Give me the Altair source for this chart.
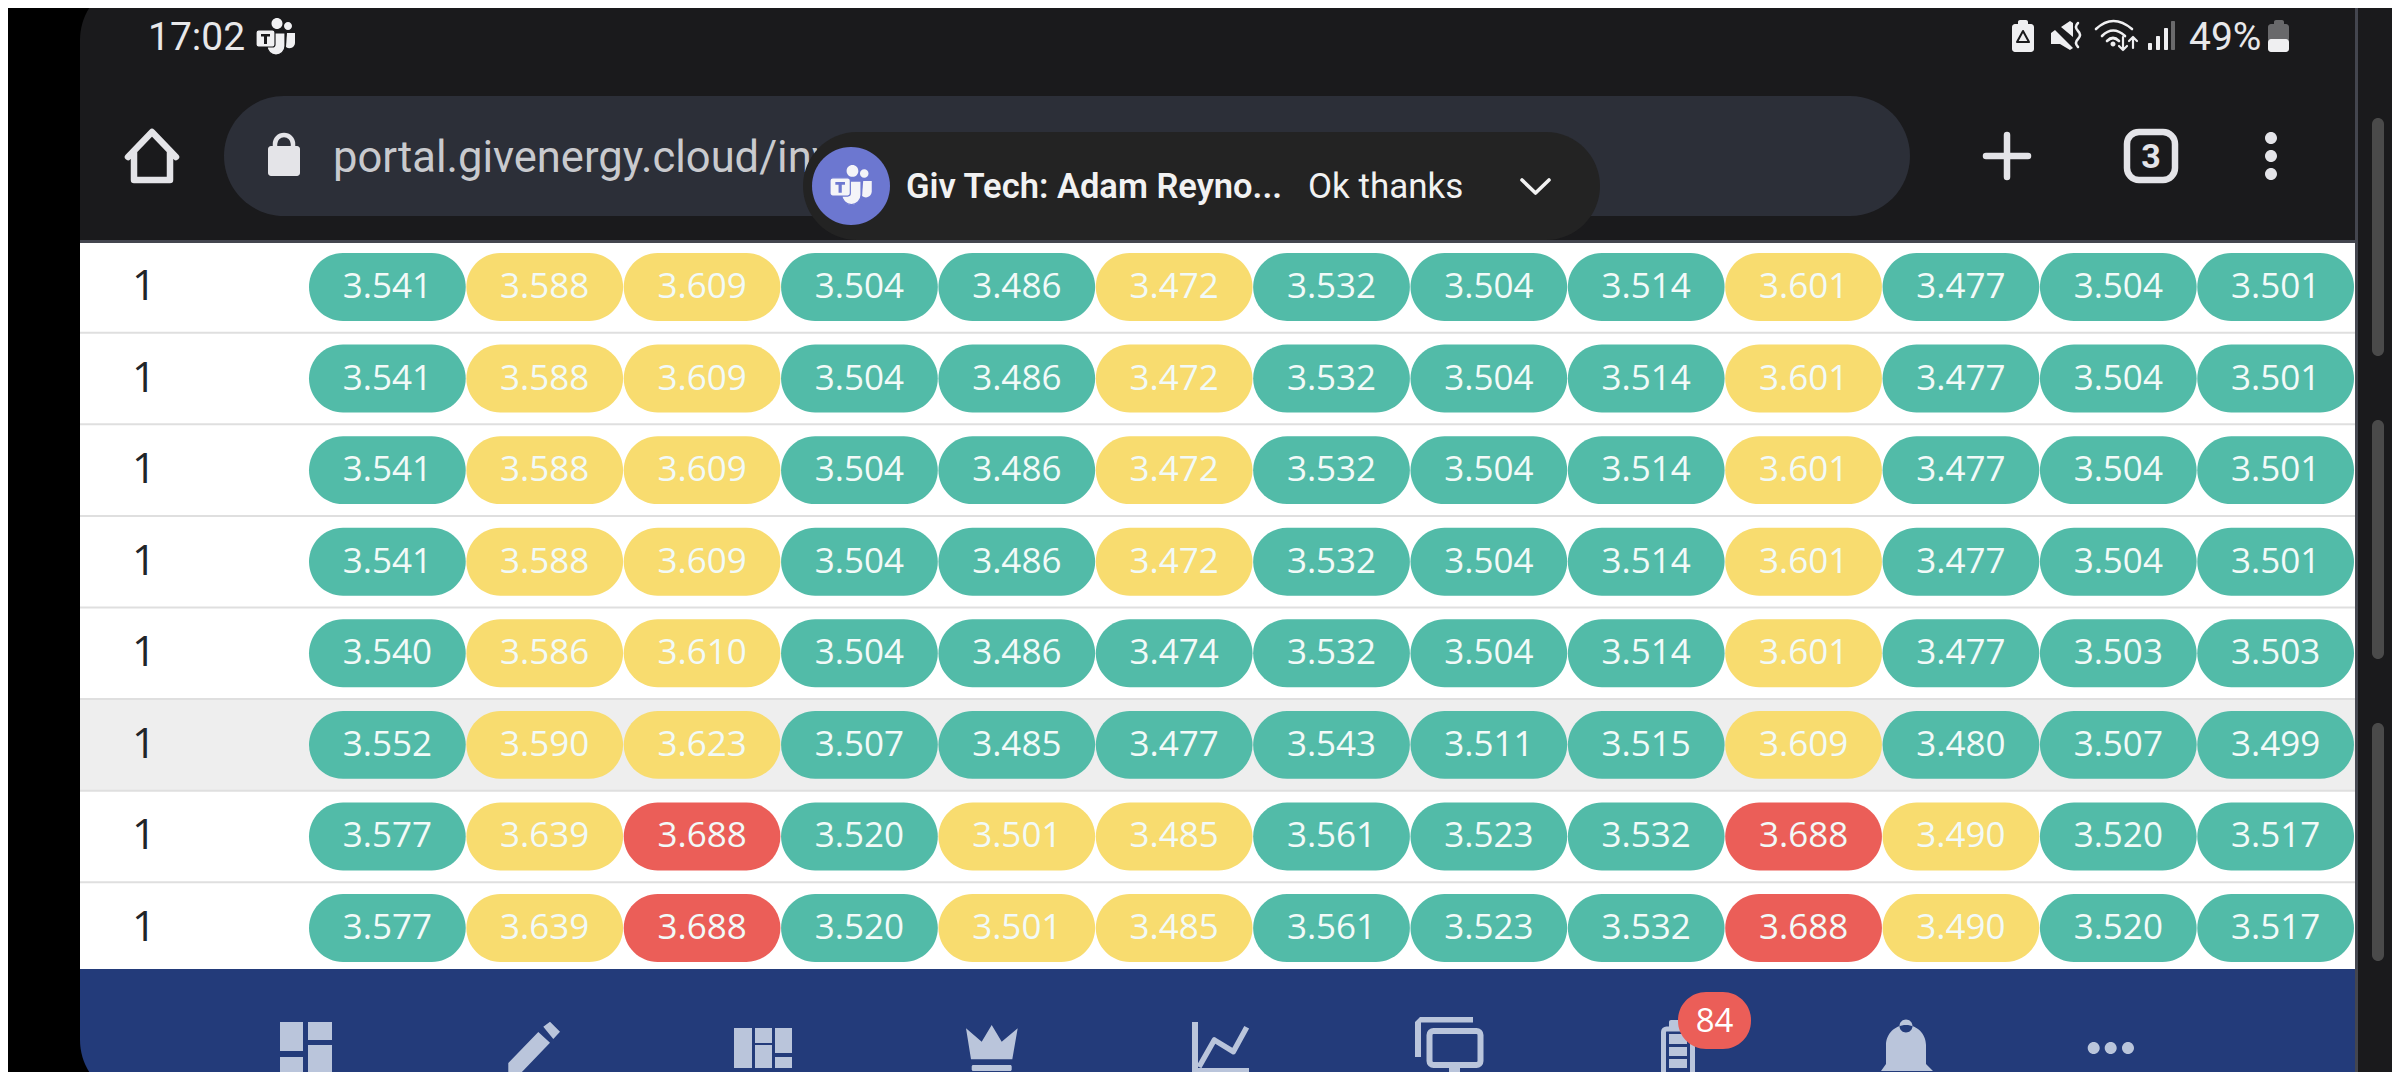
import altair as alt
import pandas as pd

# ---------- table values ----------
row_ids = [1, 1, 1, 1, 1, 1, 1, 1]
values = [
    [3.541, 3.588, 3.609, 3.504, 3.486, 3.472, 3.532, 3.504, 3.514, 3.601, 3.477, 3.504, 3.501],
    [3.541, 3.588, 3.609, 3.504, 3.486, 3.472, 3.532, 3.504, 3.514, 3.601, 3.477, 3.504, 3.501],
    [3.541, 3.588, 3.609, 3.504, 3.486, 3.472, 3.532, 3.504, 3.514, 3.601, 3.477, 3.504, 3.501],
    [3.541, 3.588, 3.609, 3.504, 3.486, 3.472, 3.532, 3.504, 3.514, 3.601, 3.477, 3.504, 3.501],
    [3.540, 3.586, 3.610, 3.504, 3.486, 3.474, 3.532, 3.504, 3.514, 3.601, 3.477, 3.503, 3.503],
    [3.552, 3.590, 3.623, 3.507, 3.485, 3.477, 3.543, 3.511, 3.515, 3.609, 3.480, 3.507, 3.499],
    [3.577, 3.639, 3.688, 3.520, 3.501, 3.485, 3.561, 3.523, 3.532, 3.688, 3.490, 3.520, 3.517],
    [3.577, 3.639, 3.688, 3.520, 3.501, 3.485, 3.561, 3.523, 3.532, 3.688, 3.490, 3.520, 3.517],
]
states = [
    "gyygg" "ygggygg" "g",
    "gyygg" "ygggygg" "g",
    "gyygg" "ygggygg" "g",
    "gyygg" "ygggygg" "g",
    "gyygg" "ggggygg" "g",
    "gyygg" "ggggygg" "g",
    "gyrgy" "ygggryg" "g",
    "gyrgy" "ygggryg" "g",
]
state_domain = ["g", "y", "r"]
state_range = ["#52BBA8", "#F8DC6F", "#EB5E58"]

cells = pd.DataFrame(
    [
        {"row": r, "col": c, "v": values[r][c], "s": states[r][c]}
        for r in range(len(values))
        for c in range(len(values[r]))
    ]
)
rows = pd.DataFrame({"row": list(range(len(row_ids))), "id": row_ids})
one = pd.DataFrame({"k": [0]})

# ---------- shared scales ----------
xs = alt.X("col:O", axis=None,
           scale=alt.Scale(type="band", domain=list(range(13)), range=[301, 2346],
                           paddingInner=0.004, paddingOuter=0))
ys = alt.Y("row:O", axis=None,
           scale=alt.Scale(type="band", domain=list(range(8)), range=[245, 954],
                           paddingInner=0.258, paddingOuter=0))

# ---------- helpers for the phone screen around the table ----------
M = 8  # page margin


def rect(x0, y0, x1, y1, fill, **kw):
    return alt.Chart(one).mark_rect(color=fill, opacity=1, **kw).encode(
        x=alt.value(x0 - M), x2=alt.value(x1 - M),
        y=alt.value(y0 - M), y2=alt.value(y1 - M))


def fill(d, color, ox=0, oy=0, k=1.0, stroke=None, sw=0):
    kw = dict(stroke=stroke, strokeWidth=sw) if stroke else dict(strokeWidth=0)
    return alt.Chart(one).mark_point(
        shape=d, size=4 * k * k, filled=True, fill=color, opacity=1, **kw
    ).encode(x=alt.value(ox - M), y=alt.value(oy - M))


def line(d, color, sw, ox=0, oy=0, k=1.0, cap="round"):
    return alt.Chart(one).mark_point(
        shape=d, size=4 * k * k, filled=False, stroke=color, strokeWidth=sw,
        strokeCap=cap, strokeJoin="round", opacity=1
    ).encode(x=alt.value(ox - M), y=alt.value(oy - M))


def txt(s, x, y, size, color, font="Roboto", weight=400, align="left"):
    return alt.Chart(one).mark_text(
        text=s, fontSize=size, color=color, font=font, fontWeight=weight,
        align=align, baseline="alphabetic"
    ).encode(x=alt.value(x - M), y=alt.value(y - M))


def circ(cx, cy, r):
    return f"M{cx - r} {cy}a{r} {r} 0 1 0 {2 * r} 0a{r} {r} 0 1 0 {-2 * r} 0Z"


def rr(x0, y0, x1, y1, r):
    return (f"M{x0 + r} {y0}H{x1 - r}a{r} {r} 0 0 1 {r} {r}V{y1 - r}a{r} {r} 0 0 1 {-r} {r}"
            f"H{x0 + r}a{r} {r} 0 0 1 {-r} {-r}V{y0 + r}a{r} {r} 0 0 1 {r} {-r}Z")


def poly(*pts):
    return "M" + "L".join(f"{x} {y}" for x, y in pts) + "Z"


def teams(ox, oy, k, fg, bg):
    return [
        fill(circ(32, 8, 4) + circ(21, 5.5, 5.5), fg, ox, oy, k),
        fill("M31 15H39V25a5.5 5.5 0 0 1-9 4Z", fg, ox, oy, k),
        fill("M11 15H29V28a9 9 0 0 1-18 0Z", fg, ox, oy, k, stroke=bg, sw=1.2),
        fill(rr(0, 12, 19, 29, 2.5), fg, ox, oy, k, stroke=bg, sw=1.2),
        fill("M5 16H14V18.5H11V26H8V18.5H5Z", bg, ox, oy, k),
    ]


DARK = "#1A1A1C"
ICON = "#E4E4E8"
NAVY = "#233B7A"
NAV = "#BAC5DB"

# ---------- screen background ----------
base = [
    rect(80, -20, 2420, 242, DARK, cornerRadiusTopLeft=60),
    rect(2354, 0, 2420, 1100, DARK),
    rect(80, 240, 2355, 243, "#44464F"),
    rect(80, 243, 2355, 970, "#FFFFFF"),
    rect(80, 969, 2355, 1100, NAVY, cornerRadiusBottomLeft=60),
    rect(2355, 0, 2358, 1100, "#44464F"),
    rect(80, 699, 2355, 790, "#EEEEEE"),
    rect(2372, 118, 2384, 356, "#4A4A4A", cornerRadius=6),
    rect(2372, 420, 2384, 659, "#4A4A4A", cornerRadius=6),
    rect(2372, 723, 2384, 961, "#4A4A4A", cornerRadius=6),
]

# ---------- table ----------
seps = alt.Chart(rows[rows.row < 7]).mark_rule(color="#DFDFDF", strokeWidth=2, yOffset=11.8).encode(
    y=alt.Y("row:O", axis=None, bandPosition=1,
            scale=alt.Scale(type="band", domain=list(range(8)), range=[245, 954],
                            paddingInner=0.258, paddingOuter=0)),
    x=alt.value(80 - M), x2=alt.value(2355 - M))
pills = alt.Chart(cells).mark_rect(cornerRadius=34, opacity=1).encode(
    x=xs, y=ys,
    color=alt.Color("s:N", legend=None,
                    scale=alt.Scale(domain=state_domain, range=state_range)))
labels = alt.Chart(cells).mark_text(
    font="Open Sans", fontSize=35, color="#F2FAF8", baseline="middle", dy=0
).encode(x=xs, y=ys, text=alt.Text("v:Q", format=".3f"))
row_labels = alt.Chart(rows).mark_text(
    font="Open Sans", fontSize=42, color="#212529", baseline="middle", align="center"
).encode(x=alt.value(144 - M), y=ys, text="id:N")

# ---------- status bar and address bar ----------
top = [
    txt("17:02", 148, 50, 39, "#E8E8EA"),
    *teams(256, 18, 1.0, "#F0F0F2", DARK),
    # battery saver
    fill(rr(2012, 24, 2034, 52, 3) + rr(2018, 20, 2028, 27, 2), "#EFEFF1"),
    line("M2023 31L2029 42H2017Z", DARK, 2),
    # mute
    fill("M2051 33L2055 30L2073 48L2070 50L2060 44H2051Z M2061 27L2070 21L2073 23V37Z", "#EFEFF1"),
    line("M2078 23q-4 4 0 8q4 4 0 8q-4 4 0 8", "#EFEFF1", 2.5),
    # wifi
    line("M2096 29Q2113 13 2132 29M2102 36Q2113 25 2125 36M2107 41Q2113 35 2119 41", "#EFEFF1", 2.6),
    fill(circ(2113, 44, 2.5), "#EFEFF1"),
    line("M2123 37V50M2119 46L2123 50L2127 46M2133 48V38M2129 41L2133 37L2137 41", "#EFEFF1", 2.2),
    # signal
    fill(rr(2148, 43, 2152, 50, 1) + rr(2156, 36, 2160, 50, 1) + rr(2164, 28, 2168, 50, 1), "#EFEFF1"),
    fill(rr(2171, 21, 2175, 50, 1), "#6A6A6C"),
    txt("49%", 2189, 50, 39, "#E8E8EA"),
    # battery
    fill(rr(2274, 20, 2284, 27, 2) + rr(2268, 24, 2289, 42, 3), "#69696B"),
    fill(rr(2268, 39, 2289, 52, 3), "#EFEFF1"),
    # home
    line("M128 157L152 132L176 157M134 151V180H170V151", ICON, 6.5),
    # address pill
    rect(224, 96, 1910, 216, "#2C2F38", cornerRadius=60),
    # lock
    fill(rr(268, 146, 300, 176, 3), ICON),
    line("M275 148V144a9 9 0 0 1 18 0V148", ICON, 4.5, cap="butt"),
    txt("portal.givenergy.cloud/inverter", 333, 172, 43.5, "#C9CACE"),
    # plus, tabs, menu
    line("M1986 156H2028M2007 135V177", ICON, 6.5),
    fill(rr(2127, 132, 2175, 180, 12), DARK, stroke=ICON, sw=6.5),
    txt("3", 2151, 168, 34, ICON, weight=700, align="center"),
    fill(circ(2271, 138, 6) + circ(2271, 156, 6) + circ(2271, 174, 6), ICON),
]

# ---------- notification ----------
notif = [
    rect(803, 132, 1600, 240, "#232323", cornerRadius=54),
    fill(circ(851, 186, 39), "#6C77D0"),
    *teams(830, 165, 1.07, "#F4F4F8", "#6C77D0"),
    txt("Giv Tech: Adam Reyno...", 906, 198, 34.5, "#F2F2F2", weight=600),
    txt("Ok thanks", 1308, 198, 35, "#F2F2F2"),
    line("M1522 180L1535.5 193L1549 180", "#F2F2F2", 3.6),
]

# ---------- bottom navigation ----------
nav = [
    # dashboard
    fill(poly((280, 1022), (303, 1022), (303, 1051), (280, 1051))
         + poly((308, 1022), (332, 1022), (332, 1040), (308, 1040))
         + poly((308, 1045), (332, 1045), (332, 1074), (308, 1074))
         + poly((280, 1057), (303, 1057), (303, 1074), (280, 1074)), NAV),
    # pencil
    fill(poly((508.3, 1063), (508.3, 1074), (520, 1074), (550, 1042.7), (538.3, 1032))
         + poly((543.3, 1026.7), (550, 1021.7), (560, 1031.7), (553.3, 1039)), NAV),
    # quilt
    fill(poly((734, 1028), (752, 1028), (752, 1068), (734, 1068))
         + poly((755, 1028), (772, 1028), (772, 1043), (755, 1043))
         + poly((755, 1045), (772, 1045), (772, 1068), (755, 1068))
         + poly((775, 1028), (792, 1028), (792, 1053), (775, 1053))
         + poly((775, 1057), (792, 1057), (792, 1068), (775, 1068)), NAV),
    # crown
    fill(poly((966, 1028.3), (981.7, 1041.7), (991.7, 1025), (1001.7, 1041.7), (1017.7, 1028.3),
              (1012.3, 1059.3), (971, 1059.3))
         + rr(971.7, 1065, 1011.7, 1071, 1.5), NAV),
    # line chart
    fill(poly((1192, 1022), (1198, 1022), (1198, 1068), (1249, 1068), (1249, 1074), (1192, 1074)), NAV),
    line("M1199 1067L1214.3 1040L1233.3 1051.7L1246.7 1027.3", NAV, 5.5, cap="butt"),
    # monitor
    fill(poly((1415, 1022), (1420, 1017), (1473, 1017), (1473, 1022.5), (1421, 1022.5), (1421, 1057), (1415, 1057)), NAV),
    fill(rr(1429.5, 1031, 1480.5, 1065, 4), NAVY, stroke=NAV, sw=6),
    fill(poly((1449, 1068), (1460, 1068), (1460, 1074), (1467, 1074), (1467, 1090), (1443, 1090), (1443, 1074), (1449, 1074)), NAV),
    # battery
    fill(rr(1669, 1020, 1680, 1030, 2), NAV),
    fill(rr(1663.5, 1029, 1692.5, 1075, 3), NAVY, stroke=NAV, sw=5),
    fill(poly((1669, 1034), (1687, 1034), (1687, 1044), (1669, 1044))
         + poly((1669, 1047), (1687, 1047), (1687, 1056), (1669, 1056))
         + poly((1669, 1059), (1687, 1059), (1687, 1068), (1669, 1068)), NAV),
    rect(1678, 992, 1751, 1049, "#EB5E58", cornerRadius=28),
    txt("84", 1714.5, 1032, 33, "#FFFFFF", font="Open Sans", align="center"),
    # bell
    fill(circ(1906, 1026, 6.5)
         + "M1881 1071L1886 1064V1045A20 20 0 0 1 1926 1045V1064L1933 1071Z"
         + "M1900.7 1074H1912.7A6 6 0 0 1 1900.7 1074Z", NAV),
    # more
    fill(circ(2093.7, 1048, 6) + circ(2110.7, 1048, 6) + circ(2128, 1048, 6), NAV),
]

chart = alt.layer(
    *base, seps, pills, labels, row_labels, *top, *notif, *nav
).properties(
    width=2384, height=1064, padding=0, background="#000000",
    autosize=alt.AutoSizeParams(type="none"),
).configure_view(strokeWidth=0)

chart.save("out.html", embed_options={"renderer": "svg", "actions": False})
